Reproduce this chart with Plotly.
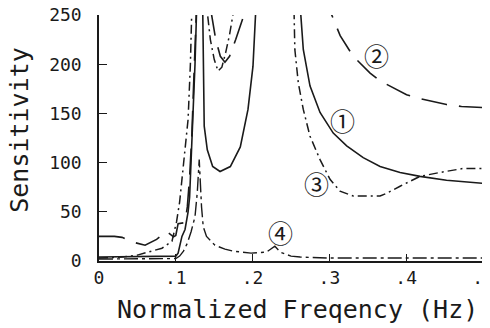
import plotly.graph_objects as go

# ---- data ----
# values above 250 mark the resonance poles (clipped by the axis range)
x1 = [0, 0.05, 0.1, 0.103, 0.108, 0.112, 0.116, 0.118, 0.12, 0.122, 0.125, 0.127, 0.128,
      0.134, 0.135, 0.136, 0.137, 0.141, 0.148, 0.1576, 0.171, 0.184, 0.194, 0.2005, 0.204, 0.206,
      0.26, 0.2625, 0.266, 0.2747, 0.2878, 0.305, 0.3225, 0.344, 0.366, 0.392, 0.418, 0.4525, 0.5]
y1 = [4, 4.5, 5, 8, 25, 32, 50, 65, 100, 144, 200, 253, 320,
      320, 253, 180, 137, 113, 96, 91, 96, 116, 154, 198, 253, 320,
      320, 253, 215, 178, 151, 130, 117, 105, 96, 90, 86, 82, 79]

x2 = [0, 0.02, 0.03, 0.045, 0.06, 0.075, 0.088, 0.097, 0.1, 0.103, 0.112, 0.115, 0.118, 0.121,
      0.123, 0.125, 0.126, 0.13, 0.145, 0.146, 0.152, 0.158, 0.164, 0.17, 0.178, 0.186, 0.19, 0.192,
      0.3, 0.3015, 0.314, 0.331, 0.353, 0.366, 0.379, 0.4005, 0.418, 0.4525, 0.472, 0.5]
y2 = [25, 25, 24, 19, 16, 22, 30, 24.5, 26, 38, 39, 55, 85, 130,
      175, 230, 260, 320, 320, 253, 225, 208, 202, 208, 225, 245, 253, 320,
      320, 253, 229, 208, 191, 183, 178, 169, 165, 159, 157, 156]

x3 = [0, 0.03, 0.05, 0.066, 0.082, 0.095, 0.101, 0.105, 0.109, 0.114, 0.116, 0.119, 0.121, 0.123,
      0.14, 0.141, 0.145, 0.15, 0.155, 0.16, 0.165, 0.17, 0.175, 0.177,
      0.25, 0.254, 0.255, 0.2595, 0.266, 0.2747, 0.2878, 0.3008, 0.3138, 0.331, 0.366, 0.375,
      0.392, 0.418, 0.444, 0.474, 0.5]
y3 = [3, 4, 6, 9.5, 13, 20, 40, 60, 93, 127, 144, 200, 253, 320,
      320, 253, 225, 205, 193, 197, 212, 230, 253, 320,
      320, 253, 215, 181, 154, 127, 103, 83, 71, 66, 66, 69,
      76, 86, 90, 94, 94]

x4 = [0, 0.05, 0.1, 0.105, 0.11, 0.115, 0.12, 0.125, 0.128, 0.1305, 0.132, 0.1335, 0.1357, 0.14,
      0.151, 0.164, 0.175, 0.198, 0.218, 0.225, 0.229, 0.236, 0.25, 0.262, 0.3, 0.4, 0.5]
y4 = [2, 2, 2.5, 5, 10, 18, 30, 45, 70, 103, 75, 55, 35, 25,
      16, 12, 10, 8, 9, 13, 15, 9, 5, 4, 3, 3, 3]

xtick_vals = [0, 0.1, 0.2, 0.3, 0.4, 0.5]
xtick_text = ["0", ".1", ".2", ".3", ".4", ".5"]
ytick_vals = [0, 50, 100, 150, 200, 250]

labels = ["①", "②", "③", "④"]
label_x = [0.317, 0.3607, 0.2826, 0.2357]
label_y = [143, 209, 79, 29.5]

INK = "#1a1a1a"
MONO = "DejaVu Sans Mono"

fig = go.Figure()
fig.add_trace(go.Scatter(x=x1, y=y1, mode="lines",
                         line=dict(color=INK, width=1.6, dash="solid")))
fig.add_trace(go.Scatter(x=x2, y=y2, mode="lines",
                         line=dict(color=INK, width=1.6, dash="26px,12px")))
fig.add_trace(go.Scatter(x=x3, y=y3, mode="lines",
                         line=dict(color=INK, width=1.5, dash="9px,4px,2px,4px")))
fig.add_trace(go.Scatter(x=x4, y=y4, mode="lines",
                         line=dict(color=INK, width=1.4, dash="14px,4px,3px,4px")))

for t, lx, ly in zip(labels, label_x, label_y):
    fig.add_annotation(x=lx, y=ly, text=t, showarrow=False,
                       font=dict(family="Noto Sans CJK JP", size=25, color=INK))

# the page body adds an 8px offset; figure size/margins compensate for it
fig.add_annotation(xref="paper", yref="paper", x=0.518, y=-0.199, xanchor="center", yanchor="middle",
                   text="Normalized Freqency (Hz)",
                   showarrow=False, font=dict(family=MONO, size=25, color=INK))
fig.add_annotation(xref="paper", yref="paper", x=-0.206, y=0.533, xanchor="center", yanchor="middle",
                   text="Sensitivity",
                   textangle=-90, showarrow=False, font=dict(family=MONO, size=25, color=INK))

fig.update_layout(
    width=482, height=320,
    margin=dict(l=91, r=7, t=7, b=67, autoexpand=False),
    paper_bgcolor="white", plot_bgcolor="white",
    showlegend=False,
)
fig.update_xaxes(range=[0, 0.5], tickvals=xtick_vals, ticktext=xtick_text, automargin=False,
                 ticklabeloverflow="allow",
                 showgrid=False, zeroline=False, showline=True, linecolor=INK, linewidth=1.5,
                 ticks="inside", ticklen=7, tickcolor=INK, tickwidth=1.2,
                 tickfont=dict(family=MONO, size=18, color=INK))
fig.update_yaxes(range=[0, 250], tickvals=ytick_vals, automargin=False,
                 ticklabeloverflow="allow",
                 showgrid=False, zeroline=False, showline=True, linecolor=INK, linewidth=1.5,
                 ticks="inside", ticklen=8, tickcolor=INK, tickwidth=1.2, ticklabelstandoff=12,
                 tickfont=dict(family=MONO, size=18, color=INK))

fig.write_html("out.html")
